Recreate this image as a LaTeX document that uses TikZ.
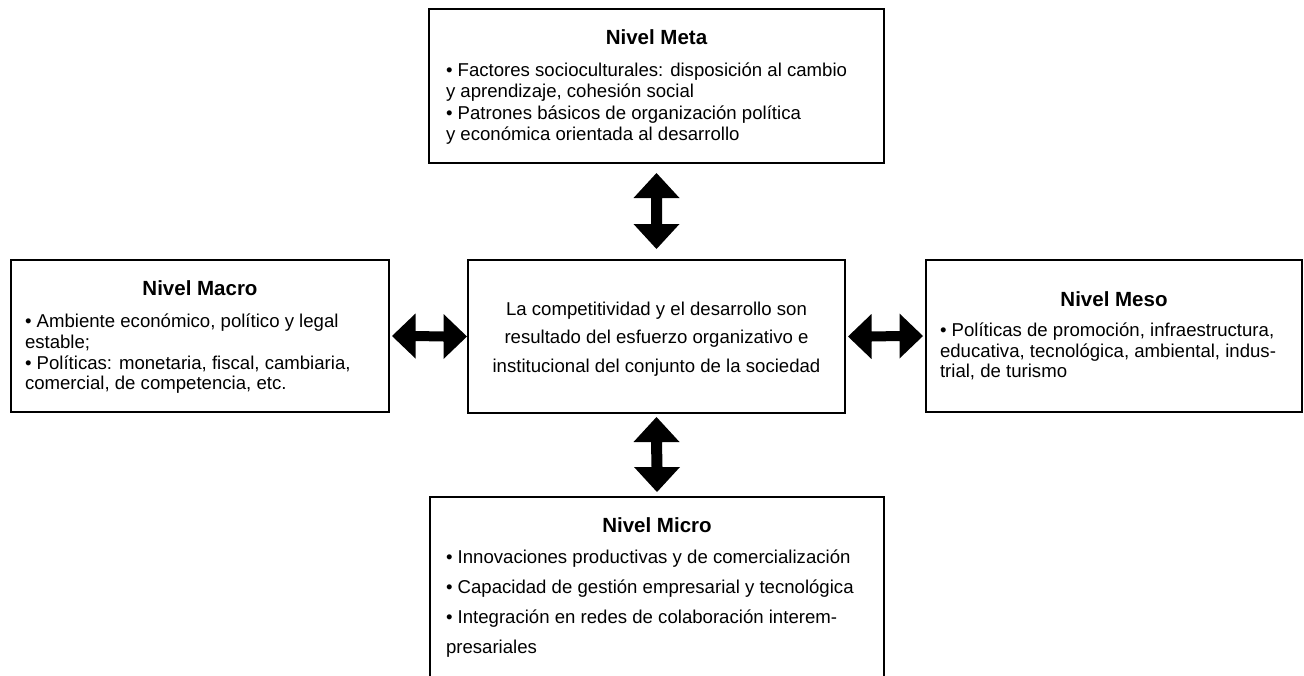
\documentclass[tikz,border=0pt]{standalone}
\usepackage{fontspec}
\setmainfont{Liberation Sans}
\usetikzlibrary{calc}
\tikzset{
  box/.style={draw=black, line width=2pt, fill=white, inner sep=0pt, outer sep=0pt, anchor=north west},
  txt/.style={anchor=base west, inner sep=0pt, outer sep=0pt, font=\fontsize{18.6}{22}\selectfont},
  ctxt/.style={anchor=base, inner sep=0pt, outer sep=0pt, font=\fontsize{18.6}{22}\selectfont},
  ttl/.style={anchor=base, inner sep=0pt, outer sep=0pt, font=\fontsize{20.5}{24}\selectfont\bfseries},
  arrowfill/.style={fill=black}
}
\newcommand\vdblarrow[2]{%
  \fill[arrowfill] (#1) -- ++(23,25) -- ++(-17.5,0) -- ($(#2)+(5.5,-25)$) -- ++(17.5,0)
    -- (#2) -- ++(-23,-25) -- ++(17.5,0) -- ($(#1)+(-5.5,25)$) -- ++(-17.5,0) -- cycle;}
\newcommand\hdblarrow[2]{%
  \fill[arrowfill] (#1) -- ++(23.5,-22.5) -- ++(0,17.5) -- ($(#2)+(-23.5,-5)$) -- ++(0,-17.5)
    -- (#2) -- ++(-23.5,22.5) -- ++(0,-17.5) -- ($(#1)+(23.5,5)$) -- ++(0,17.5) -- cycle;}
\begin{document}
\begin{tikzpicture}[x=1pt, y=-1pt]
\useasboundingbox (0,0) rectangle (1304,675);
\fill[white] (0,0) rectangle (1304,675);
\clip (0,0) rectangle (1304,675);

% boxes
\node[box, minimum width=455pt, minimum height=154pt] (meta) at (429,9) {};
\node[box, minimum width=378pt, minimum height=152pt] (macro) at (11,260) {};
\node[box, minimum width=377pt, minimum height=153pt] (center) at (468,260) {};
\node[box, minimum width=376pt, minimum height=152pt] (meso) at (926,260) {};
\node[box, minimum width=454pt, minimum height=200pt] (micro) at (430,497) {};

% Nivel Meta
\node[ttl] (metaT) at (656.5,44) {Nivel Meta};
\node[txt] (meta1) at (446,76) {• Factores socioculturales: disposición al cambio};
\node[txt] (meta2) at (446,97) {y aprendizaje, cohesión social};
\node[txt] (meta3) at (446,119) {• Patrones básicos de organización política};
\node[txt] (meta4) at (446,140) {y económica orientada al desarrollo};

% Nivel Macro
\node[ttl] (macroT) at (200,295) {Nivel Macro};
\node[txt] (macro1) at (25,327) {• Ambiente económico, político y legal};
\node[txt] (macro2) at (25,348) {estable;};
\node[txt] (macro3) at (25,369) {• Políticas: monetaria, fiscal, cambiaria,};
\node[txt] (macro4) at (25,389) {comercial, de competencia, etc.};

% Center
\node[ctxt] (c1) at (656.5,315) {La competitividad y el desarrollo son};
\node[ctxt] (c2) at (656.5,343) {resultado del esfuerzo organizativo e};
\node[ctxt] (c3) at (656.5,372) {institucional del conjunto de la sociedad};

% Nivel Meso
\node[ttl] (mesoT) at (1114,306) {Nivel Meso};
\node[txt] (meso1) at (940,336) {• Políticas de promoción, infraestructura,};
\node[txt] (meso2) at (940,357) {educativa, tecnológica, ambiental, indus-};
\node[txt] (meso3) at (940,377) {trial, de turismo};

% Nivel Micro
\node[ttl] (microT) at (657,532) {Nivel Micro};
\node[txt] (micro1) at (446,563) {• Innovaciones productivas y de comercialización};
\node[txt] (micro2) at (446,593) {• Capacidad de gestión empresarial y tecnológica};
\node[txt] (micro3) at (446,623) {• Integración en redes de colaboración interem-};
\node[txt] (micro4) at (446,653) {presariales};

% arrows
\coordinate (aTa) at ($(meta.south)+(0,10)$);
\coordinate (aTb) at ($(center.north)+(0,-11)$);
\vdblarrow{aTa}{aTb}
\coordinate (aBa) at ($(center.south)+(0,4)$);
\coordinate (aBb) at ($(micro.north)+(0,-5)$);
\vdblarrow{aBa}{aBb}
\coordinate (aLa) at ($(macro.east)+(3,0)$);
\coordinate (aLb) at ($(center.west)+(-1,0)$);
\hdblarrow{aLa}{aLb}
\coordinate (aRa) at ($(center.east)+(3,0)$);
\coordinate (aRb) at ($(meso.west)+(-3,0)$);
\hdblarrow{aRa}{aRb}
\end{tikzpicture}
\end{document}
